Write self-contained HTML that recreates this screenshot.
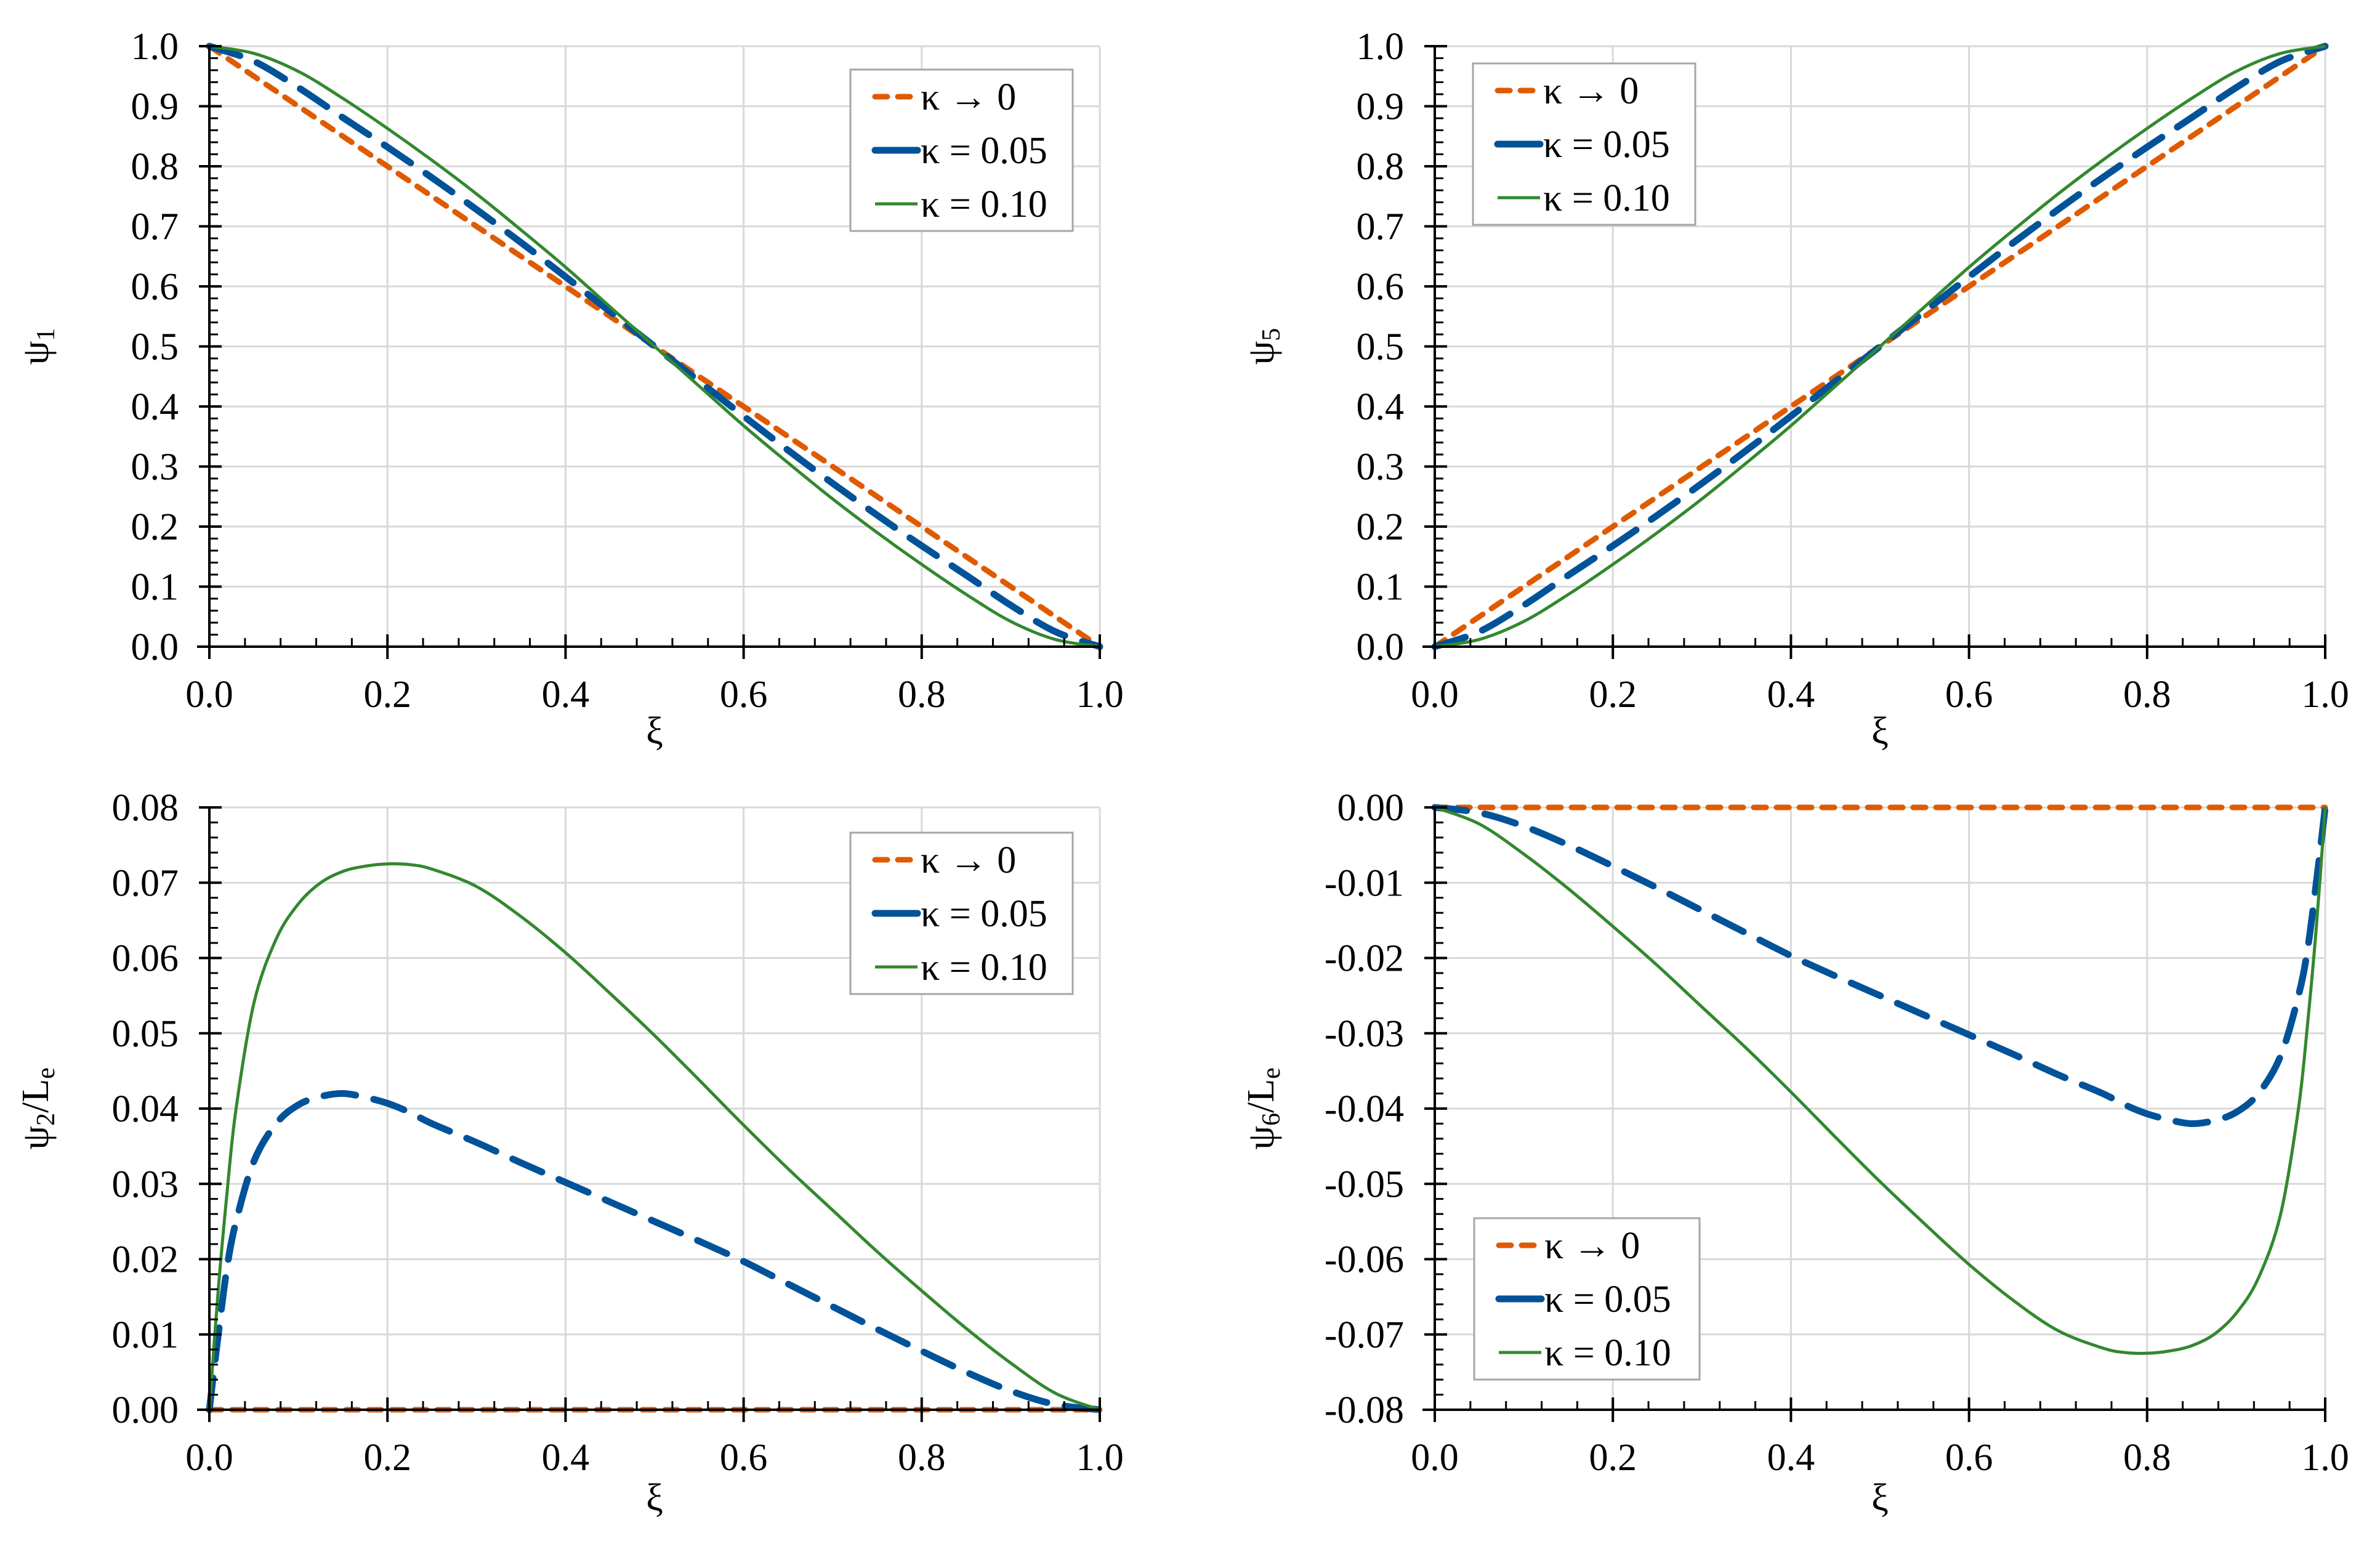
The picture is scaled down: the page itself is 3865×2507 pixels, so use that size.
<!DOCTYPE html>
<html><head><meta charset="utf-8"><style>
html,body{margin:0;padding:0;background:#fff}
svg{display:block;font-family:"Liberation Serif","DejaVu Serif",serif}
</style></head><body>
<svg id="fig" width="3865" height="2507" viewBox="0 0 3865 2507" xmlns="http://www.w3.org/2000/svg"></svg>
<script>
// ---- data ----
const xiA = [0,0.05,0.1,0.15,0.2,0.25,0.3,0.35,0.4,0.45,0.5,0.55,0.6,0.65,0.7,0.75,0.8,0.85,0.9,0.95,1];
const psi1K0 = [1,0.95,0.9,0.85,0.8,0.75,0.7,0.65,0.6,0.55,0.5,0.45,0.4,0.35,0.3,0.25,0.2,0.15,0.1,0.05,0];
const psi1K05 = [1,0.975,0.931,0.881,0.832,0.781,0.728,0.673,0.616,0.558,0.5,0.442,0.384,0.327,0.272,0.219,0.168,0.119,0.069,0.025,0];
const psi1K10 = [1,0.988,0.958,0.913,0.863,0.81,0.754,0.694,0.632,0.566,0.5,0.434,0.368,0.306,0.246,0.19,0.137,0.087,0.042,0.012,0];
const psi5K0 = [0,0.05,0.1,0.15,0.2,0.25,0.3,0.35,0.4,0.45,0.5,0.55,0.6,0.65,0.7,0.75,0.8,0.85,0.9,0.95,1];
const psi5K05 = [0,0.025,0.069,0.119,0.168,0.219,0.272,0.327,0.384,0.442,0.5,0.558,0.616,0.673,0.728,0.781,0.832,0.881,0.931,0.975,1];
const psi5K10 = [0,0.012,0.042,0.087,0.137,0.19,0.246,0.306,0.368,0.434,0.5,0.566,0.632,0.694,0.754,0.81,0.863,0.913,0.958,0.988,1];
const xiB = [0,0.01,0.02,0.03,0.05,0.075,0.1,0.125,0.15,0.175,0.2,0.225,0.25,0.3,0.35,0.4,0.45,0.5,0.55,0.6,0.65,0.7,0.75,0.8,0.85,0.9,0.95,1];
const psi2K0 = [0,0,0,0,0,0,0,0,0,0,0,0,0,0,0,0,0,0,0,0,0,0,0,0,0,0,0,0];
const psi2K05 = [0,0.010,0.019,0.025,0.033,0.038,0.0405,0.0416,0.042,0.0415,0.0407,0.0395,0.038,0.0355,0.0328,0.0302,0.0276,0.025,0.0224,0.0197,0.0167,0.0137,0.0107,0.0078,0.005,0.0025,0.0007,0];
const psi2K10 = [0,0.016,0.029,0.040,0.054,0.0625,0.0672,0.0700,0.0715,0.0722,0.0725,0.0724,0.0718,0.0695,0.0655,0.0607,0.0553,0.0497,0.0438,0.0378,0.0320,0.0265,0.0210,0.0158,0.0108,0.0062,0.0022,0];
const xiC = [0,0.05,0.1,0.15,0.2,0.25,0.3,0.35,0.4,0.45,0.5,0.55,0.6,0.65,0.7,0.75,0.775,0.8,0.825,0.85,0.875,0.9,0.925,0.95,0.97,0.98,0.99,1];
const psi6K0 = [0,0,0,0,0,0,0,0,0,0,0,0,0,0,0,0,0,0,0,0,0,0,0,0,0,0,0,0];
const psi6K05 = [0,-0.0007,-0.0025,-0.005,-0.0078,-0.0107,-0.0137,-0.0167,-0.0197,-0.0224,-0.025,-0.0276,-0.0302,-0.0328,-0.0355,-0.038,-0.0395,-0.0407,-0.0415,-0.042,-0.0416,-0.0405,-0.038,-0.033,-0.025,-0.019,-0.010,0];
const psi6K10 = [0,-0.0022,-0.0062,-0.0108,-0.0158,-0.021,-0.0265,-0.032,-0.0378,-0.0438,-0.0497,-0.0553,-0.0607,-0.0655,-0.0695,-0.0718,-0.0724,-0.0725,-0.0722,-0.0715,-0.0700,-0.0672,-0.0625,-0.054,-0.040,-0.029,-0.016,0];
const xTicks = ["0.0","0.2","0.4","0.6","0.8","1.0"];
const yTicksTop = ["0.0","0.1","0.2","0.3","0.4","0.5","0.6","0.7","0.8","0.9","1.0"];
const yTicksBL = ["0.00","0.01","0.02","0.03","0.04","0.05","0.06","0.07","0.08"];
const yTicksBR = ["-0.08","-0.07","-0.06","-0.05","-0.04","-0.03","-0.02","-0.01","0.00"];
const legendLabels = ["κ → 0","κ = 0.05","κ = 0.10"];

const NS="http://www.w3.org/2000/svg";
const svg=document.getElementById('fig');
function mk(tag,attrs,parent){const e=document.createElementNS(NS,tag);for(const k in attrs)e.setAttribute(k,attrs[k]);(parent||svg).appendChild(e);return e;}
const COL=["#e05a00","#005299","#33882e"];
const STY=[{w:9,d:"20 17",cap:"round"},{w:11,d:"52 30",cap:"round"},{w:5,d:"",cap:"butt"}];

const panels=[
 {name:"psi1",x0:340,y0:75,w:1446,h:975,ymin:0,ymax:1,ticks:yTicksTop,minor:5,xs:[xiA,xiA,xiA],ys:[psi1K0,psi1K05,psi1K10],
  yt:["ψ","1",""],ytx:64,lx:1381,ly:113,lw:361,lh:262,xl:1148,xt:1207},
 {name:"psi5",x0:2330,y0:75,w:1446,h:975,ymin:0,ymax:1,ticks:yTicksTop,minor:5,xs:[xiA,xiA,xiA],ys:[psi5K0,psi5K05,psi5K10],
  yt:["ψ","5",""],ytx:2054,lx:2392,ly:103,lw:361,lh:262,xl:1148,xt:1207},
 {name:"psi2",x0:340,y0:1311,w:1446,h:978,ymin:0,ymax:0.08,ticks:yTicksBL,minor:5,xs:[xiB,xiB,xiB],ys:[psi2K0,psi2K05,psi2K10],
  yt:["ψ","2","/L","e"],ytx:64,lx:1381,ly:1352,lw:361,lh:262,xl:2387,xt:2452},
 {name:"psi6",x0:2330,y0:1311,w:1446,h:978,ymin:-0.08,ymax:0,ticks:yTicksBR,minor:5,xs:[xiC,xiC,xiC],ys:[psi6K0,psi6K05,psi6K10],
  yt:["ψ","6","/L","e"],ytx:2054,lx:2394,ly:1978,lw:366,lh:262,xl:2387,xt:2452}
];

function path(pts){
  let d="M"+pts[0][0].toFixed(1)+","+pts[0][1].toFixed(1);
  for(let i=0;i<pts.length-1;i++){
    const p0=pts[i-1]||pts[i],p1=pts[i],p2=pts[i+1],p3=pts[i+2]||p2;
    const c1=[p1[0]+(p2[0]-p0[0])/6,p1[1]+(p2[1]-p0[1])/6];
    const c2=[p2[0]-(p3[0]-p1[0])/6,p2[1]-(p3[1]-p1[1])/6];
    d+=" C"+c1[0].toFixed(1)+","+c1[1].toFixed(1)+" "+c2[0].toFixed(1)+","+c2[1].toFixed(1)+" "+p2[0].toFixed(1)+","+p2[1].toFixed(1);
  }
  return d;
}

panels.forEach(P=>{
  const g=mk('g',{});
  
  
  const X=v=>P.x0+v*P.w;
  const Y=v=>P.y0+P.h-(v-P.ymin)/(P.ymax-P.ymin)*P.h;
  const nY=P.ticks.length-1, nX=xTicks.length-1;
  for(let i=1;i<=nX;i++){const gl=mk('line',{x1:X(i/nX),x2:X(i/nX),y1:P.y0,y2:P.y0+P.h,stroke:"#d9d9d9","stroke-width":3},g);
    }
  for(let i=1;i<=nY;i++){const yv=P.y0+P.h-i/nY*P.h;const gl=mk('line',{x1:P.x0,x2:P.x0+P.w,y1:yv,y2:yv,stroke:"#d9d9d9","stroke-width":3},g);
    }
  for(let s=0;s<3;s++){
    const pts=P.xs[s].map((x,i)=>[X(x),Y(P.ys[s][i])]);
    const attrs={d:path(pts),fill:"none",stroke:COL[s],"stroke-width":STY[s].w,"stroke-linecap":STY[s].cap,"stroke-linejoin":"round"};
    if(STY[s].d)attrs["stroke-dasharray"]=STY[s].d;
    const pe=mk('path',attrs,g);
    
    
  }
  const bx=mk('line',{x1:P.x0-20,x2:P.x0+P.w,y1:P.y0+P.h,y2:P.y0+P.h,stroke:"#000","stroke-width":4},g);
  
  const ax=mk('line',{x1:P.x0,x2:P.x0,y1:P.y0,y2:P.y0+P.h+20,stroke:"#000","stroke-width":4},g);
  
  for(let i=0;i<=nX*5;i++){
    const xv=X(i/(nX*5));
    if(i%5===0) mk('line',{x1:xv,x2:xv,y1:P.y0+P.h-20,y2:P.y0+P.h+20,stroke:"#000","stroke-width":4},g);
    else mk('line',{x1:xv,x2:xv,y1:P.y0+P.h-14,y2:P.y0+P.h,stroke:"#000","stroke-width":3},g);
  }
  xTicks.forEach((t,i)=>{const te=mk('text',{x:X(i/nX),y:P.xl,"font-size":62,"text-anchor":"middle"},g);te.textContent=t;
    });
  for(let i=0;i<=nY*P.minor;i++){
    const yv=P.y0+P.h-i/(nY*P.minor)*P.h;
    if(i%P.minor===0) mk('line',{x1:P.x0-17,x2:P.x0+20,y1:yv,y2:yv,stroke:"#000","stroke-width":4},g);
    else mk('line',{x1:P.x0,x2:P.x0+14,y1:yv,y2:yv,stroke:"#000","stroke-width":3},g);
  }
  P.ticks.forEach((t,i)=>{const te=mk('text',{x:P.x0-50,y:P.y0+P.h-i/nY*P.h+21,"font-size":62,"text-anchor":"end"},g);te.textContent=t;
    });
  const xt=mk('text',{x:P.x0+P.w/2,y:P.xt,"font-size":62,"text-anchor":"middle"},g);xt.textContent="ξ";
  
  const cy=P.y0+P.h/2;
  const yt=mk('text',{x:P.ytx,y:cy,"font-size":62,"text-anchor":"middle",transform:"rotate(-90 "+P.ytx+" "+cy+")","dominant-baseline":"middle"},g);
  
  P.yt.forEach((part,k)=>{if(!part)return;const sp=mk('tspan',k%2===1?{"font-size":42,dy:14}:(k>1?{dy:-14}:{}),yt);sp.textContent=part;});
  const lg=mk('g',{},g);
  
  mk('rect',{x:P.lx,y:P.ly,width:P.lw,height:P.lh,fill:"#fff",stroke:"#a6a6a6","stroke-width":3},lg);
  legendLabels.forEach((lab,s)=>{
    const ry=P.ly+44+s*87;
    const la={x1:P.lx+40,x2:P.lx+109,y1:ry,y2:ry,stroke:COL[s],"stroke-width":STY[s].w,"stroke-linecap":STY[s].cap};
    if(s===0)la["stroke-dasharray"]="20 17";
    const le=mk('line',la,lg);
    
    const te=mk('text',{x:P.lx+114,y:ry+21,"font-size":62},lg);te.textContent=lab;
    
  });
});
</script>
</body></html>
